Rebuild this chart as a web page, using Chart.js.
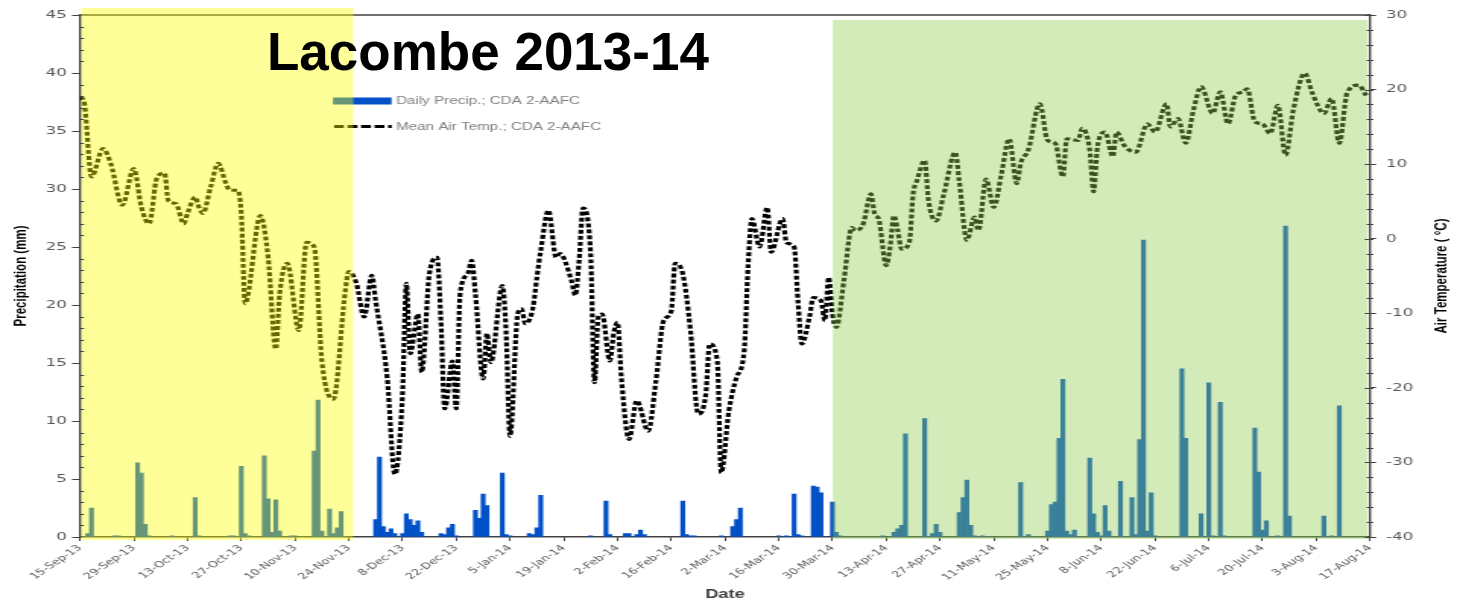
<!DOCTYPE html>
<html>
<head>
<meta charset="utf-8">
<script src="https://cdn.jsdelivr.net/npm/chart.js@4.4.1/dist/chart.umd.min.js"></script>
<style>
  html, body { margin: 0; padding: 0; background: #fff; }
  body { width: 1457px; height: 602px; position: relative; overflow: hidden; }
  /* the source picture is a horizontally stretched chart, so the canvas is drawn narrow and stretched */
  #stretch { position: absolute; left: 0; top: 0; width: 959px; height: 602px; transform: scaleX(1.519291); transform-origin: 0 0; }
  #title { position: absolute; left: 267px; top: 25px; font: bold 53px "Liberation Sans", Arial, sans-serif; line-height: 53px; color: #000; white-space: nowrap; }
</style>
</head>
<body>
<div id="stretch"><canvas id="chart" width="959" height="602"></canvas></div>
<div id="title">Lacombe 2013-14</div>
<script>
// x values are days counted from 15-Sep-13
var xTickLabels = ['15-Sep-13', '29-Sep-13', '13-Oct-13', '27-Oct-13', '10-Nov-13', '24-Nov-13',
    '8-Dec-13', '22-Dec-13', '5-Jan-14', '19-Jan-14', '2-Feb-14', '16-Feb-14', '2-Mar-14',
    '16-Mar-14', '30-Mar-14', '13-Apr-14', '27-Apr-14', '11-May-14', '25-May-14', '8-Jun-14',
    '22-Jun-14', '6-Jul-14', '20-Jul-14', '3-Aug-14', '17-Aug-14'];

// daily precipitation, [day, mm] (days without rain left out)
var precipDaily = [
    [2, 0.3], [3, 2.5], [9, 0.1], [10, 0.1], [15, 6.4], [16, 5.5], [17, 1.1], [18, 0.1], [24, 0.1], [30, 3.4],
    [31, 0.1], [39, 0.1], [40, 0.1], [42, 6.1], [43, 0.3], [44, 0.1], [48, 7.0], [49, 3.3], [50, 0.4], [51, 3.2],
    [52, 0.5], [55, 0.1], [56, 0.1], [61, 7.4], [62, 11.8], [63, 0.5], [65, 2.4], [66, 0.3], [67, 0.8], [68, 2.2],
    [77, 1.5], [78, 6.9], [79, 0.9], [80, 0.4], [81, 0.7], [82, 0.3], [84, 0.3], [85, 2.0], [86, 1.5], [87, 1.0],
    [88, 1.4], [89, 0.4], [94, 0.3], [95, 0.2], [96, 0.8], [97, 1.1], [98, 0.1], [103, 2.3], [104, 1.6], [105, 3.7],
    [106, 2.7], [110, 5.5], [111, 0.2], [112, 0.1], [117, 0.3], [118, 0.2], [119, 0.8], [120, 3.6], [133, 0.1], [137, 3.1],
    [138, 0.2], [142, 0.3], [143, 0.3], [145, 0.2], [146, 0.6], [147, 0.2], [157, 3.1], [158, 0.2], [159, 0.1], [160, 0.1],
    [167, 0.1], [170, 0.9], [171, 1.5], [172, 2.5], [182, 0.1], [184, 0.1], [186, 3.7], [187, 0.2], [188, 0.1], [191, 4.4],
    [192, 4.3], [193, 3.8], [196, 3.0], [197, 0.4], [198, 0.1], [209, 0.1], [212, 0.4], [213, 0.7], [214, 1.0], [215, 8.9],
    [220, 10.2], [222, 0.3], [223, 1.1], [224, 0.4], [229, 2.1], [230, 3.4], [231, 4.9], [232, 1.0], [233, 0.1], [235, 0.1],
    [245, 4.7], [247, 0.2], [252, 0.5], [253, 2.8], [254, 3.0], [255, 8.5], [256, 13.6], [257, 0.5], [258, 0.2], [259, 0.6],
    [263, 6.8], [264, 2.0], [265, 0.4], [266, 0.1], [267, 2.7], [268, 0.5], [271, 4.8], [274, 3.4], [275, 0.2], [276, 8.4],
    [277, 25.6], [278, 0.5], [279, 3.8], [280, 0.1], [287, 14.5], [288, 8.5], [292, 2.0], [294, 13.3], [295, 0.1], [297, 11.6],
    [298, 0.1], [306, 9.4], [307, 5.6], [308, 0.6], [309, 1.4], [312, 0.1], [314, 26.8], [315, 1.8], [324, 1.8], [326, 0.1],
    [328, 11.3]
];

// mean air temperature, [day, deg C]
var meanTemp = [
    [0, 19.0], [1, 18.5], [3, 8.3], [6, 12.1], [8, 10.1], [11, 4.5], [14, 9.4], [16, 4.2], [18, 2.0], [20, 8.1],
    [22, 8.8], [23, 5.1], [25, 4.7], [27, 2.0], [28, 3.4], [30, 5.6], [31, 4.2], [32, 3.4], [34, 6.9], [36, 10.1],
    [38, 7.4], [39, 6.5], [41, 6.5], [42, 3.4], [43, -8.7], [47, 3.1], [49, -2.5], [51, -14.8], [52, -7.4], [54, -3.3],
    [57, -12.3], [59, -0.5], [61, -1.1], [63, -16.4], [66, -21.5], [69, -7.4], [70, -4.4], [72, -6.0], [74, -10.5], [76, -4.9],
    [77, -8.3], [80, -18.6], [82, -31.6], [84, -20.8], [85, -6.0], [86, -15.4], [88, -10.1], [89, -17.9], [91, -4.7], [93, -2.5],
    [94, -11.0], [95, -22.8], [97, -16.4], [98, -22.8], [99, -7.4], [101, -4.7], [102, -2.9], [103, -7.4], [105, -18.8], [106, -12.7],
    [107, -16.6], [110, -6.3], [111, -12.7], [112, -26.5], [114, -10.1], [115, -9.4], [116, -11.4], [118, -9.2], [119, -5.2], [120, -1.6],
    [122, 3.8], [124, -2.5], [125, -2.0], [128, -5.6], [129, -7.6], [130, -2.9], [131, 4.1], [133, -2.0], [134, -19.3], [135, -10.5],
    [136, -10.1], [138, -16.4], [139, -12.7], [140, -11.2], [141, -18.6], [143, -26.9], [145, -21.7], [148, -25.8], [150, -19.1], [152, -11.0],
    [154, -9.7], [155, -3.3], [157, -4.7], [159, -12.3], [161, -23.5], [163, -20.8], [164, -14.1], [166, -16.4], [167, -31.4], [169, -23.1],
    [171, -18.6], [173, -15.0], [174, -3.8], [175, 2.7], [177, -1.1], [179, 4.2], [180, -1.8], [183, 2.7], [184, -0.5], [186, -1.1],
    [187, -8.3], [188, -14.1], [190, -10.5], [191, -7.9], [193, -8.3], [194, -11.0], [195, -5.2], [196, -10.1], [197, -11.9], [199, -5.5],
    [201, 1.5], [202, 1.1], [204, 2.0], [206, 6.0], [207, 3.3], [208, 2.7], [210, -3.6], [211, -1.1], [212, 3.1], [213, 1.1],
    [214, -1.4], [216, -0.5], [217, 6.0], [218, 7.8], [220, 10.5], [221, 5.1], [223, 2.4], [225, 6.0], [228, 11.6], [229, 7.8],
    [231, -0.2], [233, 2.9], [234, 1.1], [236, 8.0], [238, 4.2], [240, 8.7], [242, 13.4], [244, 7.4], [245, 10.1], [247, 11.9],
    [250, 18.1], [252, 13.2], [254, 12.8], [256, 8.3], [257, 13.4], [260, 13.2], [261, 14.8], [263, 11.9], [264, 6.3], [265, 12.3],
    [267, 14.3], [269, 11.0], [270, 14.3], [272, 12.5], [275, 11.6], [278, 15.4], [280, 14.3], [283, 18.1], [284, 15.0], [286, 16.1],
    [288, 12.8], [290, 17.2], [292, 20.4], [295, 16.8], [297, 19.7], [299, 15.4], [301, 19.2], [303, 19.7], [304, 20.1], [306, 15.7],
    [308, 15.4], [310, 14.1], [312, 17.9], [314, 11.2], [316, 17.2], [319, 22.2], [321, 19.5], [324, 16.8], [326, 18.8], [328, 12.8],
    [330, 19.5], [333, 20.6], [335, 19.2]
];

// shaded periods (yellow = fall, green = growing season), in days
var fallPeriod = [0.35, 71.2];
var growPeriod = [196.1, 335.4];

var SX = 1457 / 959;
function px(v) { return v / SX; }

var GREY = '#595959';
var AXIS = '#404040';

var decorations = {
    id: 'decorations',
    afterDatasetsDraw: function(chart) {
        var ctx = chart.ctx;
        var area = chart.chartArea;
        var x = chart.scales.x;
        var y = chart.scales.y;
        var y1 = chart.scales.y1;
        var i, p;
        ctx.save();

        // top frame
        ctx.strokeStyle = AXIS;
        ctx.lineWidth = 1.4;
        ctx.beginPath();
        ctx.moveTo(area.left, area.top);
        ctx.lineTo(area.right, area.top);
        ctx.stroke();

        // legend
        ctx.fillStyle = '#0050c8';
        ctx.fillRect(px(333), 97.5, px(58.5), 7);
        ctx.strokeStyle = '#000';
        ctx.lineWidth = 3;
        ctx.setLineDash([6.5, 2.4]);
        ctx.beginPath();
        ctx.moveTo(px(334), 126.5);
        ctx.lineTo(px(391.7), 126.5);
        ctx.stroke();
        ctx.setLineDash([]);
        ctx.font = '10px "Liberation Sans", Arial, sans-serif';
        ctx.fillStyle = '#7f7f7f';
        ctx.textBaseline = 'middle';
        ctx.textAlign = 'left';
        ctx.fillText('Daily Precip.; CDA 2-AAFC', px(396), 101);
        ctx.fillText('Mean Air Temp.; CDA 2-AAFC', px(396), 127);

        // shaded periods
        var x0 = x.getPixelForValue(fallPeriod[0]);
        var x1 = x.getPixelForValue(fallPeriod[1]);
        ctx.fillStyle = 'rgba(255, 255, 0, 0.4)';
        ctx.fillRect(x0, area.top - 7, x1 - x0, area.bottom - area.top + 10);
        x0 = x.getPixelForValue(growPeriod[0]);
        x1 = x.getPixelForValue(growPeriod[1]);
        ctx.fillStyle = 'rgba(146, 202, 81, 0.4)';
        ctx.fillRect(x0, area.top + 5, x1 - x0, area.bottom - area.top - 3);

        // minor ticks
        ctx.strokeStyle = AXIS;
        ctx.lineWidth = 1;
        ctx.beginPath();
        for (i = 0; i <= 45; i++) {
            if (i % 5 === 0) continue;
            p = Math.round(y.getPixelForValue(i)) + 0.5;
            ctx.moveTo(area.left - 0.5, p);
            ctx.lineTo(area.left + 2.6, p);
        }
        for (i = -40; i <= 30; i += 2) {
            p = Math.round(y1.getPixelForValue(i)) + 0.5;
            ctx.moveTo(area.right - (i % 10 === 0 ? 3.5 : 2.2), p);
            ctx.lineTo(area.right + 2.2, p);
        }
        ctx.stroke();

        // right axis title, reads bottom to top
        ctx.translate(px(1441), (area.top + area.bottom) / 2);
        ctx.rotate(-Math.PI / 2);
        ctx.font = 'bold 11.5px "Liberation Sans", Arial, sans-serif';
        ctx.fillStyle = '#000';
        ctx.textAlign = 'center';
        ctx.fillText('Air Temperature ( \u00b0C)', 0, 0);
        ctx.restore();
    }
};

var ctx = document.getElementById('chart').getContext('2d');
var chart = new Chart(ctx, {
    type: 'bar',
    data: {
        datasets: [{
            type: 'line',
            label: 'Mean Air Temp.; CDA 2-AAFC',
            yAxisID: 'y1',
            data: meanTemp.map(function(r) { return {x: r[0], y: r[1]}; }),
            borderColor: '#000',
            borderWidth: 3.2,
            borderDash: [3.8, 2.2],
            pointRadius: 0,
            fill: false,
            cubicInterpolationMode: 'monotone'
        }, {
            type: 'bar',
            label: 'Daily Precip.; CDA 2-AAFC',
            yAxisID: 'y',
            data: precipDaily.map(function(r) { return {x: r[0], y: r[1]}; }),
            backgroundColor: '#0050c8',
            borderWidth: 0,
            barPercentage: 1,
            categoryPercentage: 1
        }]
    },
    options: {
        responsive: false,
        animation: false,
        devicePixelRatio: 1,
        layout: { padding: { top: 15, left: 0, right: 0, bottom: 0 } },
        plugins: { legend: { display: false }, tooltip: { enabled: false } },
        scales: {
            x: {
                type: 'linear',
                position: 'bottom',
                min: 0,
                max: 336,
                offset: false,
                grid: { drawOnChartArea: false, offset: false, tickLength: 4, tickColor: AXIS, tickWidth: 1 },
                border: { color: AXIS, width: 1.4 },
                ticks: {
                    stepSize: 14,
                    autoSkip: false,
                    maxRotation: 45,
                    minRotation: 45,
                    padding: 2,
                    color: GREY,
                    font: { family: 'DejaVu Sans', size: 8.6 },
                    callback: function(value, index) { return xTickLabels[index]; }
                },
                title: {
                    display: true,
                    text: 'Date',
                    color: AXIS,
                    font: { family: 'Liberation Sans', size: 12, weight: 'bold' },
                    padding: 0
                },
                afterFit: function(scale) { scale.height = 65; }
            },
            y: {
                position: 'left',
                min: 0,
                max: 45,
                grid: { drawOnChartArea: false, tickLength: px(8), tickColor: AXIS, tickWidth: 1 },
                border: { color: AXIS, width: 1.4 },
                ticks: { stepSize: 5, padding: 3.5, color: GREY, font: { family: 'DejaVu Sans', size: 11 } },
                title: {
                    display: true,
                    text: 'Precipitation (mm)',
                    color: '#000',
                    font: { family: 'Liberation Sans', size: 11.5, weight: 'bold' },
                    padding: { top: 7, bottom: 0 }
                },
                afterFit: function(scale) { scale.width = px(80); }
            },
            y1: {
                position: 'right',
                min: -40,
                max: 30,
                grid: { drawOnChartArea: false, tickLength: 4, tickColor: AXIS, tickWidth: 1 },
                border: { color: AXIS, width: 1.4 },
                ticks: { stepSize: 10, padding: 6.5, color: GREY, font: { family: 'DejaVu Sans', size: 11 } },
                afterFit: function(scale) { scale.width = px(87); }
            }
        }
    },
    plugins: [decorations]
});
</script>
</body>
</html>
